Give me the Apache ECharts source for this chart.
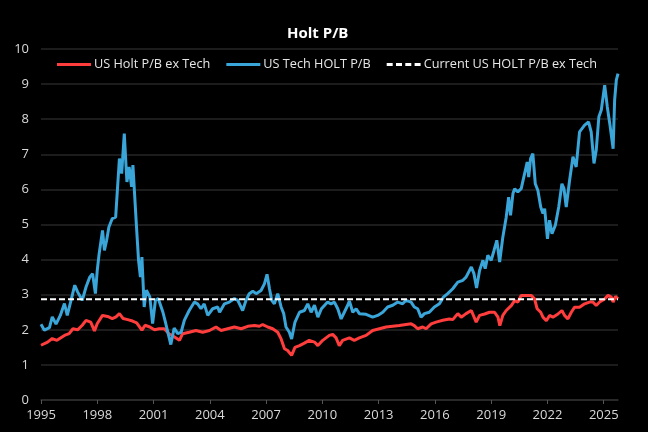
<!DOCTYPE html>
<html>
<head>
<meta charset="utf-8">
<script src="https://cdn.jsdelivr.net/npm/echarts@6/dist/echarts.min.js"></script>
<style>
  html, body { margin: 0; padding: 0; background: #000; }
  #chart-panel { width: 648px; height: 432px; }
</style>
</head>
<body>
<div id="chart-panel"></div>
<script>
// dates are decimal years
var redDates = [
    1995.00, 1995.35, 1995.60, 1995.85, 1996.25, 1996.50, 1996.70, 1996.95, 1997.20, 1997.40,
    1997.65, 1997.85, 1998.00, 1998.28, 1998.55, 1998.80, 1999.00, 1999.18, 1999.38, 1999.62,
    1999.88, 2000.10, 2000.38, 2000.55, 2000.80, 2001.05, 2001.30, 2001.57, 2001.82, 2002.10,
    2002.38, 2002.55, 2002.90, 2003.26, 2003.62, 2003.98, 2004.33, 2004.60, 2004.95, 2005.31,
    2005.67, 2006.02, 2006.38, 2006.64, 2006.82, 2007.09, 2007.35, 2007.62, 2007.80, 2007.98,
    2008.15, 2008.36, 2008.54, 2008.78, 2009.04, 2009.30, 2009.58, 2009.76, 2010.02, 2010.37,
    2010.55, 2010.73, 2010.90, 2011.08, 2011.44, 2011.70, 2011.97, 2012.33, 2012.68, 2013.04,
    2013.40, 2013.75, 2014.10, 2014.46, 2014.73, 2014.90, 2015.08, 2015.35, 2015.53, 2015.80,
    2016.06, 2016.42, 2016.77, 2016.95, 2017.22, 2017.40, 2017.66, 2017.94, 2018.20, 2018.38,
    2018.65, 2018.91, 2019.18, 2019.36, 2019.46, 2019.62, 2019.80, 2020.07, 2020.25, 2020.42,
    2020.60, 2020.87, 2021.13, 2021.31, 2021.45, 2021.64, 2021.76, 2021.94, 2022.11, 2022.29,
    2022.56, 2022.77, 2022.91, 2023.09, 2023.27, 2023.44, 2023.71, 2023.98, 2024.24, 2024.42,
    2024.60, 2024.78, 2025.05, 2025.23, 2025.40, 2025.50, 2025.62, 2025.76
];
var redValues = [
    1.56, 1.65, 1.75, 1.70, 1.84, 1.89, 2.03, 2.00, 2.13, 2.27,
    2.22, 1.97, 2.18, 2.41, 2.38, 2.32, 2.37, 2.46, 2.32, 2.29,
    2.25, 2.20, 1.99, 2.13, 2.08, 2.00, 2.03, 2.03, 1.89, 1.80,
    1.70, 1.89, 1.93, 1.98, 1.93, 1.98, 2.08, 1.98, 2.03, 2.08,
    2.03, 2.10, 2.12, 2.10, 2.15, 2.08, 2.03, 1.93, 1.74, 1.46,
    1.41, 1.27, 1.50, 1.55, 1.62, 1.70, 1.65, 1.55, 1.70, 1.84,
    1.87, 1.77, 1.55, 1.70, 1.77, 1.70, 1.77, 1.84, 1.98, 2.03,
    2.08, 2.10, 2.12, 2.15, 2.17, 2.12, 2.03, 2.08, 2.03, 2.17,
    2.22, 2.27, 2.31, 2.29, 2.46, 2.36, 2.46, 2.55, 2.22, 2.41,
    2.45, 2.50, 2.50, 2.36, 2.12, 2.41, 2.55, 2.69, 2.83, 2.79,
    2.98, 2.98, 2.98, 2.88, 2.60, 2.50, 2.36, 2.26, 2.41, 2.36,
    2.45, 2.55, 2.41, 2.31, 2.50, 2.64, 2.64, 2.74, 2.79, 2.79,
    2.69, 2.79, 2.88, 2.98, 2.93, 2.79, 2.95, 2.88
];

var blueDates = [
    1995.00, 1995.18, 1995.45, 1995.60, 1995.80, 1996.03, 1996.25, 1996.40, 1996.60, 1996.80,
    1996.95, 1997.20, 1997.40, 1997.60, 1997.75, 1997.90, 1998.00, 1998.10, 1998.28, 1998.38,
    1998.50, 1998.62, 1998.80, 1998.98, 1999.18, 1999.30, 1999.44, 1999.58, 1999.70, 1999.83,
    1999.90, 2000.07, 2000.20, 2000.30, 2000.38, 2000.50, 2000.62, 2000.80, 2000.95, 2001.10,
    2001.25, 2001.50, 2001.65, 2001.92, 2002.10, 2002.29, 2002.47, 2002.64, 2002.90, 2003.18,
    2003.35, 2003.53, 2003.70, 2003.89, 2004.15, 2004.42, 2004.52, 2004.78, 2005.04, 2005.31,
    2005.49, 2005.75, 2005.93, 2006.10, 2006.29, 2006.47, 2006.73, 2006.91, 2007.05, 2007.18,
    2007.30, 2007.44, 2007.62, 2007.80, 2007.94, 2008.06, 2008.24, 2008.36, 2008.54, 2008.78,
    2009.04, 2009.22, 2009.40, 2009.58, 2009.76, 2009.95, 2010.28, 2010.46, 2010.64, 2010.82,
    2011.00, 2011.17, 2011.35, 2011.44, 2011.62, 2011.80, 2011.97, 2012.33, 2012.68, 2012.95,
    2013.22, 2013.48, 2013.75, 2014.02, 2014.28, 2014.46, 2014.73, 2014.90, 2015.08, 2015.26,
    2015.44, 2015.70, 2015.97, 2016.24, 2016.45, 2016.68, 2016.95, 2017.22, 2017.49, 2017.66,
    2017.94, 2018.08, 2018.22, 2018.38, 2018.56, 2018.68, 2018.82, 2019.00, 2019.15, 2019.30,
    2019.45, 2019.62, 2019.80, 2019.93, 2020.03, 2020.16, 2020.25, 2020.42, 2020.60, 2020.78,
    2020.92, 2021.00, 2021.10, 2021.22, 2021.35, 2021.49, 2021.64, 2021.76, 2021.85, 2022.00,
    2022.11, 2022.24, 2022.42, 2022.60, 2022.77, 2022.88, 2023.00, 2023.18, 2023.36, 2023.53,
    2023.71, 2023.84, 2023.98, 2024.19, 2024.33, 2024.48, 2024.60, 2024.74, 2024.87, 2025.05,
    2025.19, 2025.32, 2025.50, 2025.58, 2025.67, 2025.76
];
var blueValues = [
    2.16, 1.99, 2.06, 2.37, 2.16, 2.41, 2.75, 2.41, 2.84, 3.27,
    3.08, 2.84, 3.22, 3.50, 3.60, 3.03, 3.70, 4.17, 4.83, 4.26,
    4.55, 4.93, 5.17, 5.21, 6.88, 6.45, 7.59, 6.21, 6.64, 6.07,
    6.69, 5.12, 3.98, 3.50, 4.07, 2.65, 3.13, 2.94, 2.18, 2.84,
    2.89, 2.50, 2.18, 1.58, 2.05, 1.89, 1.93, 2.27, 2.55, 2.79,
    2.74, 2.60, 2.74, 2.41, 2.60, 2.65, 2.50, 2.74, 2.79, 2.89,
    2.84, 2.55, 2.84, 3.03, 3.10, 3.03, 3.12, 3.31, 3.58, 3.17,
    2.84, 2.74, 3.03, 2.65, 2.46, 2.08, 1.93, 1.74, 2.22, 2.50,
    2.55, 2.74, 2.50, 2.70, 2.36, 2.60, 2.79, 2.74, 2.79, 2.60,
    2.31, 2.50, 2.70, 2.82, 2.50, 2.60, 2.46, 2.44, 2.36, 2.41,
    2.50, 2.65, 2.70, 2.79, 2.74, 2.84, 2.79, 2.65, 2.60, 2.36,
    2.46, 2.50, 2.65, 2.74, 2.93, 3.03, 3.17, 3.36, 3.41, 3.50,
    3.79, 3.60, 3.19, 3.69, 3.98, 3.74, 4.12, 3.98, 4.26, 4.55,
    3.93, 4.64, 5.21, 5.78, 5.26, 5.88, 6.02, 5.93, 6.02, 6.45,
    6.78, 6.35, 6.88, 7.02, 6.16, 5.97, 5.50, 5.31, 5.45, 4.59,
    5.12, 4.74, 4.98, 5.50, 6.16, 6.02, 5.50, 6.26, 6.93, 6.64,
    7.64, 7.73, 7.83, 7.92, 7.64, 6.74, 7.12, 8.07, 8.26, 8.97,
    8.35, 7.88, 7.16, 8.54, 9.11, 9.30
];

var currentDates = [1995.00, 2025.76];
var currentValues = [2.87, 2.87];

var yearTicks = [1995, 1998, 2001, 2004, 2007, 2010, 2013, 2016, 2019, 2022, 2025];

function pairs(xs, ys) {
    return xs.map(function (x, i) { return [x, ys[i]]; });
}

var font = '"Open Sans", "Noto Sans", sans-serif';

// legend swatches: plain bar for the two series, four dashes for the level line
var dashIcon = 'path://M0,0h6v3h-6z M9.3,0h6v3h-6z M18.6,0h6v3h-6z M27.9,0h6v3h-6z';

var option = {
    backgroundColor: '#000000',
    animation: false,
    title: {
        text: 'Holt P/B',
        left: 287,
        top: 26,
        padding: 0,
        textStyle: { color: '#ffffff', fontSize: 15, fontWeight: 'bold', fontFamily: font }
    },
    legend: {
        top: 58,
        left: 57,
        padding: 0,
        itemWidth: 34,
        itemHeight: 3,
        itemGap: 16,
        textStyle: { color: '#e6e6e6', fontSize: 12.7, fontFamily: font, padding: [0, 0, 0, -2] },
        data: [
            { name: 'US Holt P/B ex Tech', icon: 'rect' },
            { name: 'US Tech HOLT P/B', icon: 'rect' },
            { name: 'Current US HOLT P/B ex Tech', icon: dashIcon }
        ]
    },
    grid: { left: 41, right: 30, top: 49, bottom: 32 },
    xAxis: {
        type: 'value',
        min: 1995,
        max: 2025.76,
        axisLine: { show: true, lineStyle: { color: '#2e2e2e', width: 1.5 } },
        axisTick: { show: true, length: 4, lineStyle: { color: '#555555' }, customValues: yearTicks },
        axisLabel: { color: '#d9d9d9', fontSize: 13, fontFamily: font, margin: 9, customValues: yearTicks,
            formatter: function (v) { return String(Math.round(v)); } },
        splitLine: { show: false }
    },
    yAxis: {
        type: 'value',
        min: 0,
        max: 10,
        interval: 1,
        axisLine: { show: false },
        axisTick: { show: false },
        axisLabel: { color: '#d9d9d9', fontSize: 13, fontFamily: font, margin: 12 },
        splitLine: { lineStyle: { color: '#262626', width: 1.5 } }
    },
    series: [{
        name: 'US Holt P/B ex Tech',
        type: 'line',
        showSymbol: false,
        symbol: 'none',
        color: '#ff3d3d',
        lineStyle: { width: 3, color: '#ff3d3d' },
        data: pairs(redDates, redValues)
    }, {
        name: 'US Tech HOLT P/B',
        type: 'line',
        showSymbol: false,
        symbol: 'none',
        color: '#3aa5d8',
        lineStyle: { width: 3, color: '#3aa5d8' },
        data: pairs(blueDates, blueValues)
    }, {
        name: 'Current US HOLT P/B ex Tech',
        type: 'line',
        showSymbol: false,
        symbol: 'none',
        z: 5,
        color: '#ffffff',
        lineStyle: { width: 2, color: '#ffffff', type: [6, 3] },
        data: pairs(currentDates, currentValues)
    }]
};

var myChart = echarts.init(document.getElementById('chart-panel'));
myChart.setOption(option);
</script>
</body>
</html>
